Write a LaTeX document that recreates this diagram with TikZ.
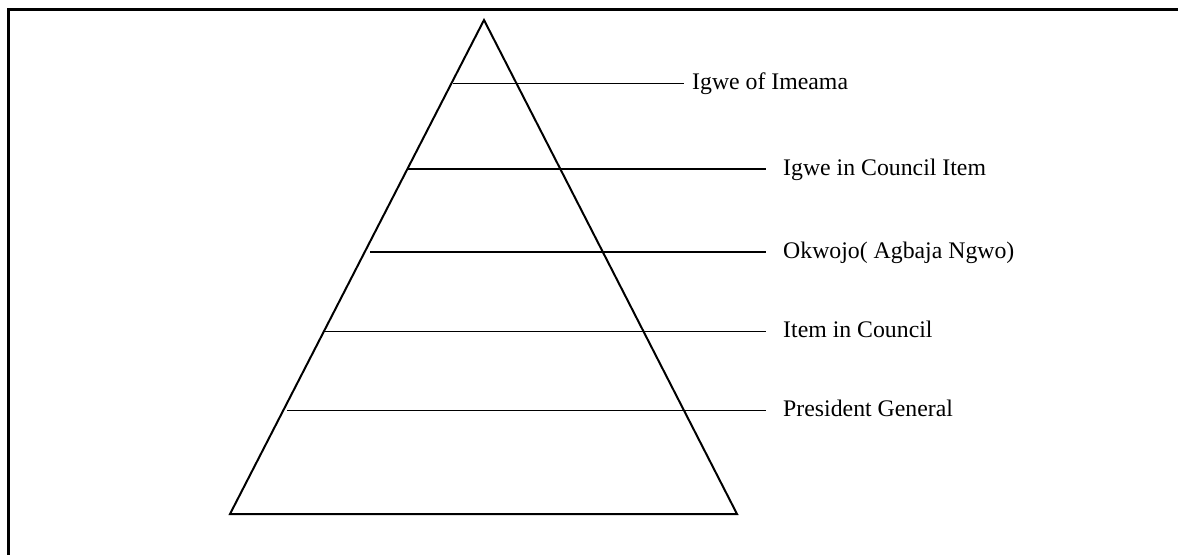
\documentclass[tikz,border=0pt]{standalone}
\usepackage{fontspec}
\setmainfont{Liberation Serif}
\usetikzlibrary{positioning}

\begin{document}
\begin{tikzpicture}[x=0.03cm,y=-0.03cm]
\tikzset{lvl/.style={inner sep=0pt,font=\fontsize{20.3}{24}\selectfont}}
\useasboundingbox (0,0) rectangle (1178,555);

% Frame (only top and left edge visible)
\draw[line width=2pt] (1178,9.5) -- (8.5,9.5) -- (8.5,555);

% The pyramid
\coordinate (apex) at (484,20);
\coordinate (bl) at (230,514);
\coordinate (br) at (737,514);
\draw[line width=1.7pt, line join=miter] (apex) -- (bl) -- (br) -- cycle;

% Levels: start on the left side, end before the text
\coordinate (s1) at (453,83.5);
\coordinate (e1) at (684,83.5);
\coordinate (s2) at (408,169);
\coordinate (e2) at (766,169);
\coordinate (s3) at (370,252);
\coordinate (e3) at (766,252);
\coordinate (s4) at (323,331.5);
\coordinate (e4) at (766,331.5);
\coordinate (s5) at (287,410.5);
\coordinate (e5) at (766,410.5);

% Labels
\node[lvl, right=6.8pt of e1, anchor=base west, yshift=-5.5pt] (t1) {Igwe of Imeama};
\node[lvl, right=14.5pt of e2, anchor=base west, yshift=-5.5pt] (t2) {Igwe in Council Item};
\node[lvl, right=14.5pt of e3, anchor=base west, yshift=-5.5pt] (t3) {Okwojo( Agbaja Ngwo)};
\node[lvl, right=14.5pt of e4, anchor=base west, yshift=-5.5pt] (t4) {Item in Council};
\node[lvl, right=14.5pt of e5, anchor=base west, yshift=-5.5pt] (t5) {President General};

\foreach \i in {1,...,5} {
    \draw[line width=1.6pt] (s\i) -- (e\i);
}

\end{tikzpicture}
\end{document}
